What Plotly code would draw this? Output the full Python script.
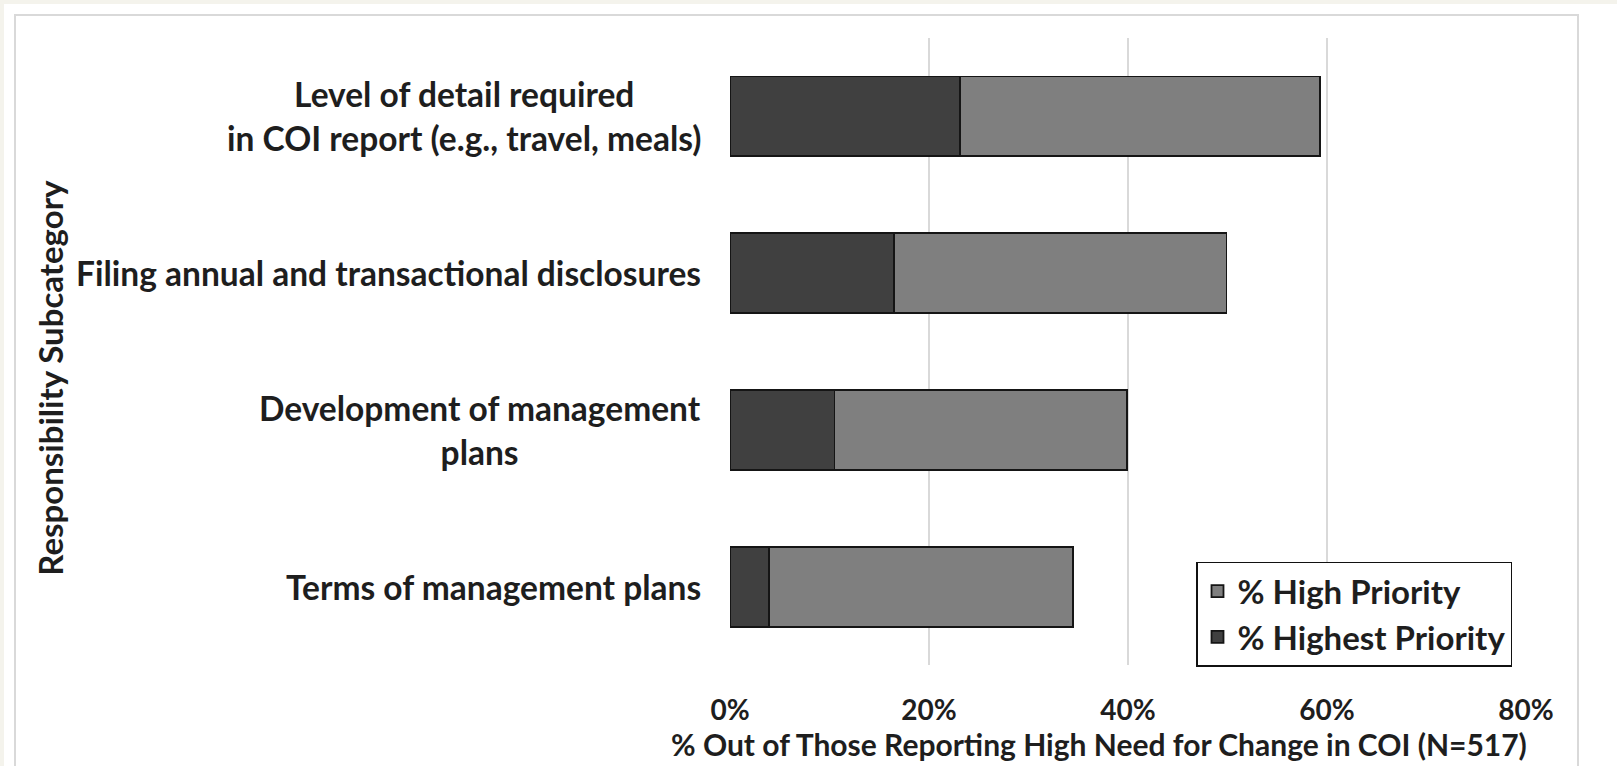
import plotly.graph_objects as go

# categories, top to bottom as in the chart
categories = [
    "Level of detail required<br>in COI report (e.g., travel, meals)",
    "Filing annual and transactional disclosures",
    "Development of management<br>plans",
    "Terms of management plans",
]
highest_priority = [23.1, 16.5, 10.5, 3.9]   # % Highest Priority (dark part)
high_priority = [36.2, 33.4, 29.4, 30.6]     # % High Priority (light part, stacked)
x_ticks = [0, 20, 40, 60, 80]
x_tick_labels = ["0%", "20%", "40%", "60%", "80%"]

FONT = "Lato, Open Sans, sans-serif"
TXT = "#1e1e1e"

W, H = 1617, 766
L, R, T, B = 730, 1526, 38, 665.5


def px_x(p):
    return (p - L) / (R - L)


def px_y(p):
    return (B - p) / (B - T)


fig = go.Figure()
fig.add_trace(go.Bar(
    y=categories, x=highest_priority, orientation="h",
    name="% Highest Priority", legendgroup="a",
    marker=dict(color="#404040", line=dict(color="#151515", width=1.8)),
))
fig.add_trace(go.Bar(
    y=categories, x=high_priority, orientation="h",
    name="% High Priority", legendgroup="b",
    marker=dict(color="#7f7f7f", line=dict(color="#151515", width=1.8)),
))

# category labels, centred lines like the original
for c in categories:
    fig.add_annotation(
        x=0, xref="paper", y=c, yref="y", text="<b>" + c + "</b>",
        xanchor="right", yanchor="middle", align="center", xshift=-27,
        showarrow=False, font=dict(family=FONT, size=33.5, color=TXT),
    )

fig.add_annotation(
    x=px_x(1099), y=px_y(745), xref="paper", yref="paper",
    text="<b>% Out of Those Reporting High Need for Change in COI (N=517)</b>",
    showarrow=False, xanchor="center", yanchor="middle",
    font=dict(family=FONT, size=30, color=TXT),
)
fig.add_annotation(
    x=px_x(50), y=px_y(378), xref="paper", yref="paper",
    text="<b>Responsibility Subcategory</b>", textangle=-90,
    showarrow=False, xanchor="center", yanchor="middle",
    font=dict(family=FONT, size=33, color=TXT),
)

# card background / border
fig.add_shape(type="rect", xref="paper", yref="paper", layer="below",
              x0=px_x(4), x1=px_x(W + 5), y0=px_y(4), y1=px_y(H + 5),
              fillcolor="white", line=dict(width=0))
fig.add_shape(type="rect", xref="paper", yref="paper", layer="below",
              x0=px_x(15), x1=px_x(1578), y0=px_y(15), y1=px_y(H + 20),
              fillcolor="white", line=dict(color="#d9d9d9", width=2))

fig.update_layout(
    width=W, height=H,
    margin=dict(l=L, r=W - R, t=T, b=H - B),
    paper_bgcolor="#f4f3ec", plot_bgcolor="rgba(0,0,0,0)",
    barmode="stack", bargap=0.49,
    font=dict(family=FONT, size=28, color=TXT),
    showlegend=True,
    legend=dict(
        x=px_x(1196), y=px_y(562), xanchor="left", yanchor="top",
        traceorder="reversed", bgcolor="white", tracegroupgap=0,
        bordercolor="#111111", borderwidth=1.5,
        font=dict(family=FONT, size=33, color=TXT, weight="bold"),
    ),
    xaxis=dict(
        range=[0, 80], tickvals=x_ticks, ticktext=["<b>%s</b>" % t for t in x_tick_labels],
        showgrid=True, gridcolor="#d9d9d9", gridwidth=2,
        zeroline=False, showline=False, ticks="", ticklabelstandoff=26,
        tickfont=dict(family=FONT, size=28, color=TXT),
    ),
    yaxis=dict(
        categoryorder="array", categoryarray=categories[::-1],
        showticklabels=False, showgrid=False, zeroline=False, showline=False, ticks="",
    ),
)

fig.write_html("out.html", config={"displayModeBar": False},
               post_script="document.body.style.margin='0';")
